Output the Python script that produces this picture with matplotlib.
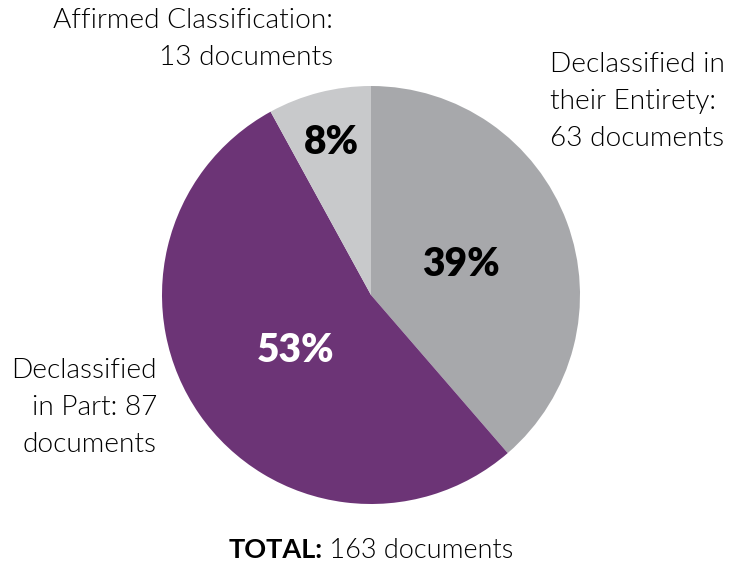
import numpy as np
import matplotlib
matplotlib.use("Agg")
import matplotlib.pyplot as plt

labels = ["Declassified in\ntheir Entirety:\n63 documents",
          "Declassified\nin Part: 87\ndocuments",
          "Affirmed Classification:\n13 documents"]
counts = [63, 87, 13]
colors = ["#A7A8AB", "#6C3476", "#C8C9CB"]
pct_colors = ["#000000", "#FFFFFF", "#000000"]
pct_radius = [0.46, 0.44, 0.77]

plt.rcParams["font.family"] = ["Lato", "DejaVu Sans"]

W, H = 730, 565
fig = plt.figure(figsize=(W / 100, H / 100), dpi=100)
cx, cy, r = 371, 295, 209
ax = fig.add_axes([(cx - r) / W, (H - cy - r) / H, 2 * r / W, 2 * r / H])

total = sum(counts)
wedges, _ = ax.pie(counts, colors=colors, startangle=90, counterclock=False,
                   radius=1.0, wedgeprops=dict(linewidth=0))
ax.set_xlim(-1, 1)
ax.set_ylim(-1, 1)
ax.set_aspect("equal")
ax.axis("off")

for w, c, tc, rr in zip(wedges, counts, pct_colors, pct_radius):
    mid = np.deg2rad((w.theta1 + w.theta2) / 2)
    ax.text(rr * np.cos(mid), rr * np.sin(mid), f"{round(c / total * 100)}%",
            ha="center", va="center_baseline", fontsize=28, fontweight=800,
            color=tc)

fs = 20.2
ls = 1.6
lw = 300
# multi-line labels are anchored at the baseline of their last line
fig.text(550 / W, 1 - 146 / H, labels[0], ha="left", va="baseline",
         fontsize=fs, linespacing=ls, fontweight=lw)
fig.text(157 / W, 1 - 452 / H, labels[1], ha="right", va="baseline",
         fontsize=fs, linespacing=ls, multialignment="right", fontweight=lw)
fig.text(333 / W, 1 - 65 / H, labels[2], ha="right", va="baseline",
         fontsize=fs, linespacing=ls, multialignment="right", fontweight=lw)

# total line: bold prefix followed by regular text
t1 = fig.text(0, 1 - 558 / H, "TOTAL:", ha="left", va="baseline",
              fontsize=19.5, fontweight="bold")
t2 = fig.text(0, 1 - 558 / H, f" {total} documents", ha="left", va="baseline",
              fontsize=19.5, fontweight=lw)
fig.canvas.draw()
rend = fig.canvas.get_renderer()
w1 = t1.get_window_extent(rend).width
w2 = t2.get_window_extent(rend).width
x0 = cx - (w1 + w2) / 2
t1.set_x(x0 / W)
t2.set_x((x0 + w1) / W)

fig.savefig("out.png", dpi=100, facecolor="white")
